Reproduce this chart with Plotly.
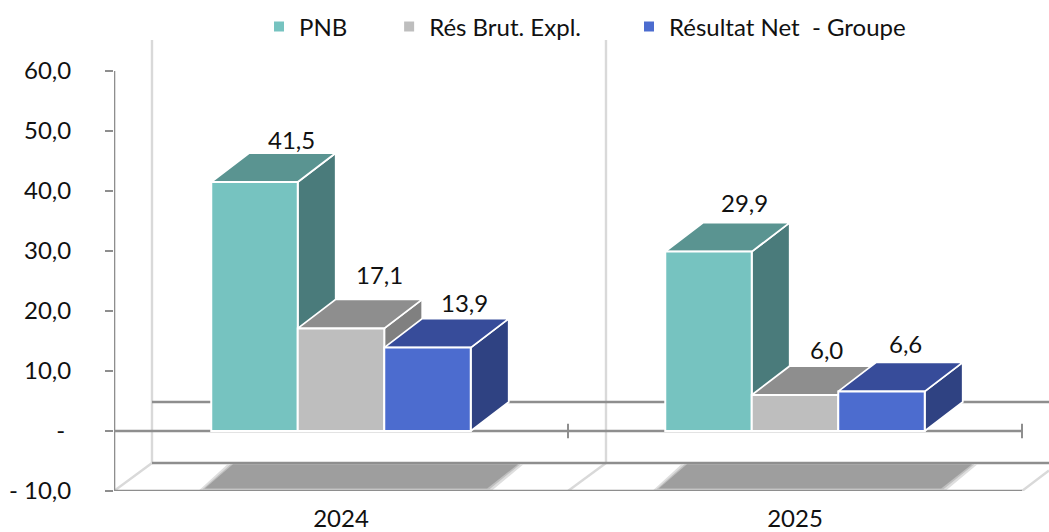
import plotly.graph_objects as go

years = ["2024", "2025"]
series = ["PNB", "Rés Brut. Expl.", "Résultat Net  - Groupe"]
values = {
    "PNB": [41.5, 29.9],
    "Rés Brut. Expl.": [17.1, 6.0],
    "Résultat Net  - Groupe": [13.9, 6.6],
}
labels = {
    "PNB": ["41,5", "29,9"],
    "Rés Brut. Expl.": ["17,1", "6,0"],
    "Résultat Net  - Groupe": ["13,9", "6,6"],
}
y_ticks = [60, 50, 40, 30, 20, 10, 0, -10]
y_tick_text = ["60,0", "50,0", "40,0", "30,0", "20,0", "10,0", "-\u00a0", "- 10,0"]

# styling
front = ["#76C3C0", "#BEBEBE", "#4C6CCF"]
side = ["#4A7B7B", "#808080", "#2F4282"]
top = ["#5A9491", "#8E8E8E", "#374C9A"]
legend_pad = [6, 7, 0]
label_shift = [[37, 43, 36, 49], [38, 54, 31, 46], [37, 45, 24, 48]]
FONT = "Lato"
FS = 24
INK = "#111111"
DARK = "#8E8E8E"
LIGHT = "#D9D9D9"

W, H = 1049, 532
L, T, B = 114, 0, 41
PX_X = 454.0  # pixels per category
PX_Y = 6.0    # pixels per value unit
BAR = 86.5 / PX_X
DX = 38 / PX_X
DY = 29 / PX_Y
x_end = (W - L) / PX_X
y_top = (H - B - T) / PX_Y - 10
y_wall = (491 - 40) / PX_Y - 10
floor_back = -10 + 28 / PX_Y

fig = go.Figure()

# depth faces on the main axes
for s, name in enumerate(series):
    for g in range(len(years)):
        v = values[name][g]
        x0 = g + 0.5 + (s - 1.5) * BAR
        x1 = x0 + BAR
        fig.add_trace(go.Scatter(
            x=[x1, x1 + DX, x1 + DX, x1, x1], y=[0, DY, v + DY, v, 0],
            mode="lines", fill="toself", fillcolor=side[s],
            line=dict(color="white", width=1.8), showlegend=False, hoverinfo="skip"))
        fig.add_trace(go.Scatter(
            x=[x0, x1, x1 + DX, x0 + DX, x0], y=[v, v, v + DY, v + DY, v],
            mode="lines", fill="toself", fillcolor=top[s],
            line=dict(color="white", width=1.8), showlegend=False, hoverinfo="skip"))

# front faces on an overlay so they sit on top of the depth faces
for s, name in enumerate(series):
    fig.add_trace(go.Bar(
        x=[g + 0.5 + (s - 1) * BAR for g in range(len(years))],
        y=values[name], width=BAR,
        name=name + "\u00a0" * legend_pad[s],
        marker=dict(color=front[s], line=dict(color="white", width=2)),
        xaxis="x2", yaxis="y2", hoverinfo="skip"))

shapes = []
def line(x0, y0, x1, y1, color=DARK, width=2.6):
    shapes.append(dict(type="line", x0=x0, y0=y0, x1=x1, y1=y1, xref="x", yref="y",
                       layer="below", line=dict(color=color, width=width)))

# walls and floor
for xb in [DX, 1 + DX]:
    line(xb, floor_back, xb, y_wall, LIGHT, 2.4)
for xf in [0, 1]:
    line(xf, -10, xf + DX, floor_back, LIGHT, 2.4)
line(2, -10, x_end, -10 + (x_end - 2) * (DY / DX), LIGHT, 2.4)
line(DX, DY, x_end, DY)
line(DX, floor_back, x_end, floor_back)
# floor shadows
for g in range(len(years)):
    xc = g + 0.5
    for grow, col, op in [(0.012, "#D6D6D6", 0.8), (0.005, "#BDBDBD", 0.9), (0, "#9E9E9E", 1)]:
        xs = [xc - 0.30 - grow, xc + 0.322 + grow, xc + 0.39 + grow, xc - 0.238 - grow]
        ys = [-9.6 - grow * 20, -9.6 - grow * 20, floor_back - 0.2, floor_back - 0.2]
        path = "M %f,%f L %f,%f L %f,%f L %f,%f Z" % (xs[0], ys[0], xs[1], ys[1], xs[2], ys[2], xs[3], ys[3])
        shapes.append(dict(type="path", path=path, xref="x", yref="y", layer="below",
                           fillcolor=col, opacity=op, line=dict(width=0)))
# axes
line(0, -10, 0, 60)
line(0, 0, 2, 0)
line(0, -10, 2, -10)
for t in [0, 1, 2]:
    line(t, -1.2, t, 1.2, DARK, 2)

annotations = []
for s, name in enumerate(series):
    for g in range(len(years)):
        annotations.append(dict(
            x=g + 0.5 + (s - 1) * BAR, y=values[name][g], xref="x", yref="y",
            text=labels[name][g], showarrow=False, xanchor="center", yanchor="middle",
            xshift=label_shift[s][g * 2], yshift=label_shift[s][g * 2 + 1],
            font=dict(family=FONT, size=FS, color=INK)))

x_axis = dict(range=[0, x_end], domain=[0, 1], tickmode="array", tickvals=[0.5, 1.5], ticktext=years,
              showgrid=False, zeroline=False, showline=False, ticks="", ticklabelstandoff=11,
              automargin=False, tickfont=dict(family=FONT, size=FS, color=INK))
y_axis = dict(range=[-10, y_top], domain=[0, 1], tickmode="array", tickvals=y_ticks, ticktext=y_tick_text,
              showgrid=False, zeroline=False, showline=False, ticks="outside", ticklen=8, tickwidth=2,
              tickcolor=DARK, ticklabelstandoff=29, automargin=False,
              tickfont=dict(family=FONT, size=FS, color=INK))

fig.update_layout(
    width=W, height=H, autosize=False,
    margin=dict(l=L, r=0, t=T, b=B, pad=0),
    paper_bgcolor="white", plot_bgcolor="rgba(0,0,0,0)",
    barmode="overlay", shapes=shapes, annotations=annotations,
    xaxis=x_axis, yaxis=y_axis,
    xaxis2=dict(range=[0, x_end], overlaying="x", visible=False),
    yaxis2=dict(range=[-10, y_top], overlaying="y", visible=False),
    legend=dict(orientation="h", x=(259 - L) / (W - L), xanchor="left", y=1 - 27 / (H - T - B), yanchor="middle",
                font=dict(family=FONT, size=FS, color=INK), bgcolor="rgba(0,0,0,0)"),
)
fig.write_html("out.html", config=dict(displayModeBar=False),
               post_script="document.body.style.margin='0';document.body.style.overflow='hidden';")
